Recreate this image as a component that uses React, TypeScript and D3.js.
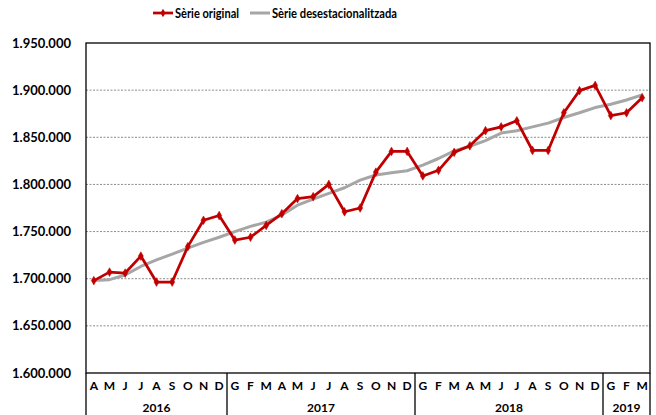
import React from "react";
import * as d3 from "d3";

const monthLabels = ["A","M","J","J","A","S","O","N","D","G","F","M","A","M","J","J","A","S","O","N","D","G","F","M","A","M","J","J","A","S","O","N","D","G","F","M"];
const years = ["2016","2017","2018","2019"];
const yearCounts = [9,12,12,3];
const original = [1698000,1707000,1706000,1724000,1696500,1696500,1734000,1762000,1767000,1741000,1744000,1756500,1769000,1785000,1787000,1800000,1771000,1775000,1813000,1835000,1835000,1809000,1815000,1834000,1841000,1857000,1861000,1867500,1836000,1836000,1876000,1899500,1905000,1873000,1876000,1892000];
const adjusted = [1698000,1699000,1704000,1713000,1720000,1726000,1732500,1738500,1744000,1750000,1755500,1760000,1767500,1778000,1784500,1790500,1796500,1804500,1810000,1812500,1814500,1820500,1827500,1835500,1840500,1846500,1854500,1857000,1861000,1865000,1871000,1876000,1881500,1885000,1889500,1895000];
const yTicks = [1600000,1650000,1700000,1750000,1800000,1850000,1900000,1950000];
const seriesNames = ["Sèrie original","Sèrie desestacionalitzada"];

const L = 86, R = 650, T = 43, B = 373;
const FONT = "Lato, 'Open Sans', sans-serif";

export default function App() {
  const idx = d3.range(monthLabels.length);
  const xb = d3.scaleBand<number>().domain(idx).range([L, R]);
  const xc = (i: number) => (xb(i) as number) + xb.bandwidth() / 2;
  const y = d3.scaleLinear().domain([1600000, 1950000]).range([B, T]);
  const fmt = (v: number) => d3.format(",")(v).replace(/,/g, ".");
  const line = d3.line<number>().x((_, i) => xc(i)).y(d => y(d));
  const diamond = d3.symbol().type(d3.symbolDiamond).size(22)();

  let acc = 0;
  const yearBounds = yearCounts.map(c => { const s = acc; acc += c; return [s, acc]; });

  return (
    <svg width={656} height={415} style={{ position: "absolute", left: 0, top: 0, background: "#fff" }} fontFamily={FONT}>
      {/* gridlines */}
      {yTicks.filter(t => t > 1600000 && t < 1950000).map(t => (
        <line key={t} x1={L} x2={R} y1={y(t)} y2={y(t)} stroke="#8c8c8c" strokeWidth={1} strokeDasharray="2,1.5" />
      ))}
      {/* y labels */}
      {yTicks.map(t => (
        <text key={t} x={71} y={y(t)} dy="0.35em" textAnchor="end" fontSize={13} fontWeight="bold" fill="#000">{fmt(t)}</text>
      ))}
      {/* series */}
      <path d={line(adjusted) || ""} fill="none" stroke="#a6a6a6" strokeWidth={3} strokeLinejoin="round" />
      <path d={line(original) || ""} fill="none" stroke="#c00000" strokeWidth={2.75} strokeLinejoin="round" />
      {original.map((v, i) => (
        <path key={i} d={diamond || ""} transform={`translate(${xc(i)},${y(v)})`} fill="#c00000" stroke="#c00000" strokeWidth={0.5} />
      ))}
      {/* plot border */}
      <rect x={L} y={T} width={R - L} height={B - T} fill="none" stroke="#000" strokeWidth={1.3} />
      {/* category axis separators */}
      {yearBounds.map(([s], k) => (
        <line key={"s" + k} x1={xb(s) as number} x2={xb(s) as number} y1={B} y2={415} stroke="#000" strokeWidth={1.3} />
      ))}
      <line x1={R} x2={R} y1={B} y2={415} stroke="#000" strokeWidth={1.3} />
      {/* month labels */}
      {monthLabels.map((m, i) => (
        <text key={"m" + i} x={xc(i)} y={390} textAnchor="middle" fontSize={12} fontWeight="bold" fill="#000">{m}</text>
      ))}
      {/* year labels */}
      {yearBounds.map(([s, e], k) => (
        <text key={"y" + k} x={((xb(s) as number) + (xb(e - 1) as number) + xb.bandwidth()) / 2} y={412} textAnchor="middle" fontSize={12} fontWeight="bold" fill="#000">{years[k]}</text>
      ))}
      {/* legend */}
      <g>
        <line x1={153} x2={173} y1={13} y2={13} stroke="#c00000" strokeWidth={2.75} />
        <path d={diamond || ""} transform="translate(163,13)" fill="#c00000" />
        <text x={175} y={13} dy="0.35em" fontSize={14} fontWeight="bold" fill="#000" textLength={64} lengthAdjust="spacingAndGlyphs">{seriesNames[0]}</text>
        <line x1={250} x2={270} y1={13} y2={13} stroke="#a6a6a6" strokeWidth={3} />
        <text x={272} y={13} dy="0.35em" fontSize={14} fontWeight="bold" fill="#000" textLength={125} lengthAdjust="spacingAndGlyphs">{seriesNames[1]}</text>
      </g>
    </svg>
  );
}
